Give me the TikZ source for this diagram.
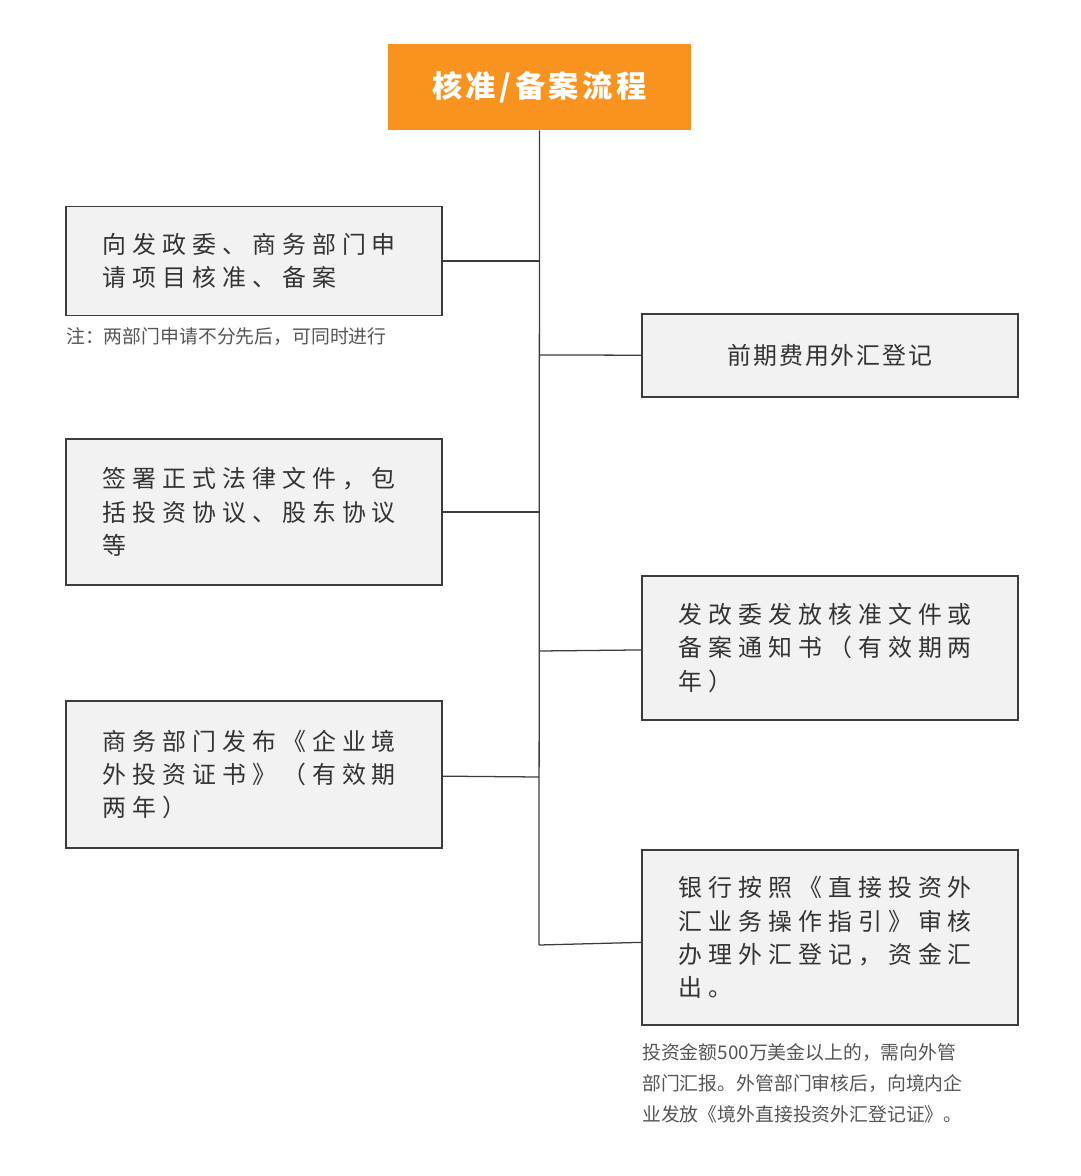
\documentclass[tikz,border=0pt]{standalone}
\usepackage{fontspec}
\setmainfont{Noto Sans CJK SC}
\usetikzlibrary{positioning,calc}
\definecolor{boxfill}{HTML}{F2F2F2}
\definecolor{boxline}{HTML}{3C3C3C}
\definecolor{titlefill}{HTML}{F7931E}
\definecolor{notegray}{HTML}{555555}
\tikzset{
	stepbox/.style={
		draw=boxline,
		fill=boxfill,
		line width=0.9pt,
		minimum width=9.4cm,
		text width=7.55cm,
		align=left,
		font=\fontsize{17}{23.6}\selectfont\addfontfeature{LetterSpace=25},
		text=black!80,
	},
	notetext/.style={
		inner sep=0pt,
		anchor=north west,
		align=left,
		text=notegray,
		font=\fontsize{13.4}{22}\selectfont,
	},
	spine/.style={line width=0.9pt, boxline},
}
\begin{document}
\begin{tikzpicture}[x=0.025cm,y=-0.025cm]
\useasboundingbox (0,0) rectangle (1080,1176);

\node[fill=titlefill, minimum width=7.575cm, minimum height=2.15cm, text=white,
	font=\fontsize{21.5}{24}\selectfont\bfseries\addfontfeature{LetterSpace=12}]
	(title) at (539.5,87) {核准/备案流程};

% left column
\node[stepbox, minimum height=2.725cm] (l1) at (254,261)
	{向发政委、商务部门申\\请项目核准、备案};
\node[stepbox, minimum height=3.65cm] (l2) at (254,512)
	{签署正式法律文件，包\\括投资协议、股东协议\\等};
\node[stepbox, minimum height=3.675cm] (l3) at (254,774.5)
	{商务部门发布《企业境\\外投资证书》（有效期\\两年）};

% right column
\node[stepbox, minimum height=2.075cm, align=center,
	font=\fontsize{17}{23.6}\selectfont\addfontfeature{LetterSpace=8}] (r1) at (830,355.5)
	{前期费用外汇登记};
\node[stepbox, minimum height=3.6cm] (r2) at (830,648)
	{发改委发放核准文件或\\备案通知书（有效期两\\年）};
\node[stepbox, minimum height=4.375cm] (r3) at (830,937.5)
	{银行按照《直接投资外\\汇业务操作指引》审核\\办理外汇登记，资金汇\\出。};

% notes
\node[notetext] (n1) at (66,327) {注：两部门申请不分先后，可同时进行};
\node[notetext] (n2) at (642,1043)
	{投资金额500万美金以上的，需向外管\\部门汇报。外管部门审核后，向境内企\\业发放《境外直接投资外汇登记证》。};

% spine
\foreach \n \y in {l1/261,r1/355,l2/512,r2/651,l3/777,r3/945}{
	\coordinate (s-\n) at (539,\y);
	\draw[spine] (\n) -- (s-\n);
}
\draw[spine] (title.south) -- (s-r3);

\end{tikzpicture}
\end{document}
